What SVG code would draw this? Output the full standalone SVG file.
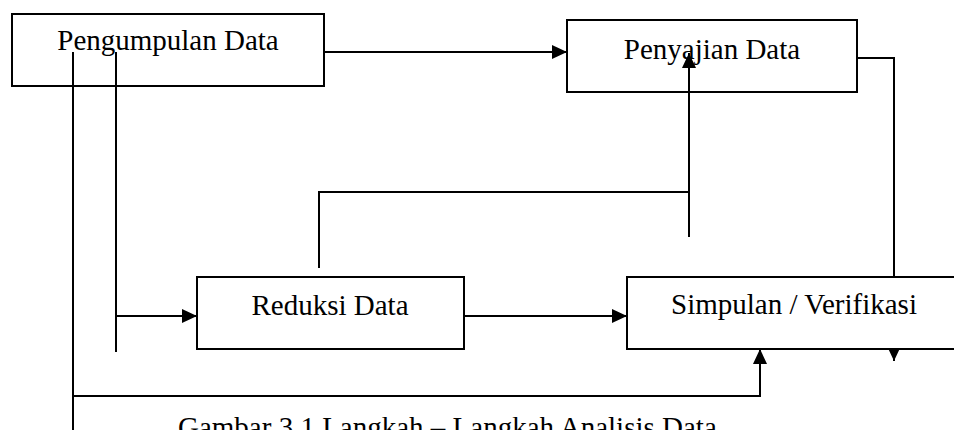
<svg xmlns="http://www.w3.org/2000/svg" width="954" height="430" viewBox="0 0 954 430">
<defs>
<style>
.box{fill:#fff;stroke:#000;stroke-width:2}
.lbl{font-family:"Liberation Serif","Times New Roman",serif;font-size:29px;fill:#000;text-anchor:middle}
.cap{font-family:"Liberation Serif","Times New Roman",serif;font-size:29px;fill:#000}
.c{fill:none;stroke:#000;stroke-width:2}
.a{marker-end:url(#ah)}
</style>
<marker id="ah" markerUnits="userSpaceOnUse" markerWidth="15" markerHeight="14" refX="15" refY="7" orient="auto">
<path d="M0,0 L15,7 L0,14 z" fill="#000"/>
</marker>
</defs>
<rect width="954" height="430" fill="#fff"/>
<g id="pengumpulan">
<rect class="box" x="12" y="14" width="312" height="72"/>
<text class="lbl" x="168" y="50">Pengumpulan Data</text>
</g>
<g id="penyajian">
<rect class="box" x="567" y="20" width="290" height="72"/>
<text class="lbl" x="712" y="59">Penyajian Data</text>
</g>
<g id="reduksi">
<rect class="box" x="197" y="277" width="267" height="72"/>
<text class="lbl" x="330" y="315">Reduksi Data</text>
</g>
<g id="connectors">
<path class="c a" d="M324,52 H567"/>
<path class="c" d="M73,52 V430"/>
<path class="c a" d="M73,396 H760 V349"/>
<path class="c" d="M116,52 V352"/>
<path class="c a" d="M116,316 H197"/>
<path class="c a" d="M464,316 H627"/>
<path class="c" d="M319,268 V192 H689"/>
<path class="c a" d="M689,237 V53"/>
<path class="c a" d="M857,58 H894 V361"/>
</g>
<g id="simpulan">
<rect class="box" x="627" y="277" width="340" height="72"/>
<text class="lbl" x="794" y="314">Simpulan / Verifikasi</text>
</g>
<text class="cap" x="178" y="437">Gambar 3.1 Langkah – Langkah Analisis Data</text>
</svg>
